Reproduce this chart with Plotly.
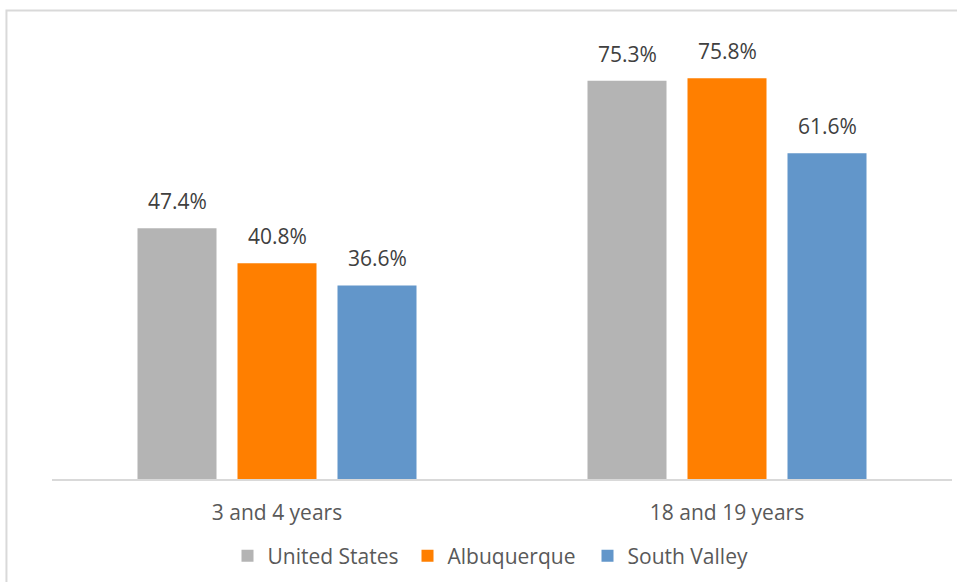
import plotly.graph_objects as go

# School enrollment by age group
categories = ["3 and 4 years", "18 and 19 years"]
united_states = [47.4, 75.3]
albuquerque = [40.8, 75.8]
south_valley = [36.6, 61.6]

series = [
    ("United States", united_states, "#B4B4B4"),
    ("Albuquerque", albuquerque, "#FF7F00"),
    ("South Valley", south_valley, "#6296CA"),
]

FONT = "Open Sans"
FS = 21
fig = go.Figure()
for name, vals, color in series:
    fig.add_trace(go.Bar(
        name=name, x=categories, y=vals,
        marker=dict(color=color, line=dict(width=0)),
        hoverinfo="skip",
    ))

# value labels above each bar, offset to the bar's slot within its group
shifts = [-100, 0, 100]
for (name, vals, color), dx in zip(series, shifts):
    for cat, v in zip(categories, vals):
        fig.add_annotation(
            x=cat, y=v, text=f"{v:.1f}%", showarrow=False,
            xshift=dx, yshift=27, yanchor="middle",
            font=dict(family=FONT, size=FS, color="#404040"),
        )

# light frame around the chart area
fig.add_shape(
    type="rect", xref="paper", yref="paper",
    x0=-0.0506, x1=1.02, y0=-0.3, y1=1.1076,
    line=dict(color="#D9D9D9", width=2), fillcolor="rgba(0,0,0,0)",
    layer="below",
)

fig.update_layout(
    width=957, height=582,
    margin=dict(l=52, r=5, t=56, b=103),
    paper_bgcolor="white", plot_bgcolor="white",
    barmode="group", bargap=1/3, bargroupgap=0.21,
    font=dict(family=FONT, size=FS, color="#595959"),
    showlegend=True,
    legend=dict(
        orientation="h", x=0.195, xanchor="left", y=-0.182, yanchor="middle",
        entrywidth=135, entrywidthmode="pixels",
        font=dict(family=FONT, size=FS, color="#595959"),
        itemclick=False, itemdoubleclick=False,
    ),
    xaxis=dict(
        showline=True, linecolor="#D9D9D9", linewidth=2,
        ticks="outside", ticklen=14, tickcolor="rgba(0,0,0,0)",
        tickfont=dict(family=FONT, size=FS, color="#595959"),
        showgrid=False, zeroline=False, fixedrange=True,
    ),
    yaxis=dict(
        range=[0, 80], visible=False, showgrid=False, zeroline=False,
        fixedrange=True,
    ),
)

fig.write_html("out.html", config={"displayModeBar": False})
